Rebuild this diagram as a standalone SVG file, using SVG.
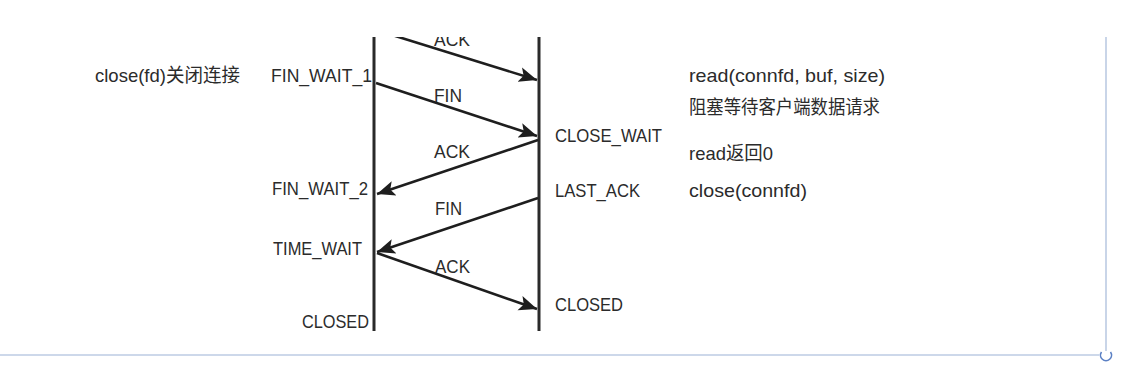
<svg xmlns="http://www.w3.org/2000/svg" width="1141" height="370" viewBox="0 0 1141 370">
<defs>
<style>
.t{font-family:"Liberation Sans","Noto Sans CJK SC",sans-serif;font-size:19px;fill:#2b2b2b}
.life{stroke:#2a2a2a;stroke-width:3;fill:none}
.msg{stroke:#1e1e1e;stroke-width:2.6;fill:none;marker-end:url(#ah)}
.frame{stroke:#bccbe3;stroke-width:1.6;fill:none}
</style>
<marker id="ah" markerUnits="userSpaceOnUse" markerWidth="20" markerHeight="18" viewBox="0 0 20 18" refX="18" refY="9" orient="auto">
<path d="M0,1.5 L18,9 L0,16.5 L4,9 Z" fill="#1e1e1e"/>
</marker>
<clipPath id="top"><rect x="0" y="37" width="1141" height="333"/></clipPath>
</defs>
<rect width="1141" height="370" fill="#fff"/>
<g clip-path="url(#top)">
<g id="client">
<line class="life" x1="374" y1="30" x2="374" y2="331"/>
<text class="t" x="95" y="82" textLength="145" lengthAdjust="spacingAndGlyphs">close(fd)关闭连接</text>
<text class="t" x="271" y="82" textLength="101" lengthAdjust="spacingAndGlyphs">FIN_WAIT_1</text>
<text class="t" x="272" y="195" textLength="96" lengthAdjust="spacingAndGlyphs">FIN_WAIT_2</text>
<text class="t" x="273" y="255" textLength="89" lengthAdjust="spacingAndGlyphs">TIME_WAIT</text>
<text class="t" x="302" y="328" textLength="67" lengthAdjust="spacingAndGlyphs">CLOSED</text>
</g>
<g id="server">
<line class="life" x1="539" y1="30" x2="539" y2="331"/>
<text class="t" x="555" y="142" textLength="107" lengthAdjust="spacingAndGlyphs">CLOSE_WAIT</text>
<text class="t" x="555" y="197" textLength="85" lengthAdjust="spacingAndGlyphs">LAST_ACK</text>
<text class="t" x="555" y="311" textLength="68" lengthAdjust="spacingAndGlyphs">CLOSED</text>
<text class="t" x="689" y="82" textLength="196" lengthAdjust="spacingAndGlyphs">read(connfd, buf, size)</text>
<text class="t" x="689" y="114" textLength="191" lengthAdjust="spacingAndGlyphs">阻塞等待客户端数据请求</text>
<text class="t" x="689" y="160" textLength="84" lengthAdjust="spacingAndGlyphs">read返回0</text>
<text class="t" x="689" y="197" textLength="118" lengthAdjust="spacingAndGlyphs">close(connfd)</text>
</g>
<g id="connectors">
<line class="msg" x1="376" y1="30" x2="537" y2="80"/>
<text class="t" x="434" y="46" textLength="36" lengthAdjust="spacingAndGlyphs">ACK</text>
<line class="msg" x1="376" y1="83" x2="537" y2="136"/>
<text class="t" x="434" y="102" textLength="28" lengthAdjust="spacingAndGlyphs">FIN</text>
<line class="msg" x1="538" y1="140" x2="377" y2="194"/>
<text class="t" x="434" y="158" textLength="36" lengthAdjust="spacingAndGlyphs">ACK</text>
<line class="msg" x1="538" y1="198" x2="377" y2="252"/>
<text class="t" x="435" y="215" textLength="27" lengthAdjust="spacingAndGlyphs">FIN</text>
<line class="msg" x1="377" y1="253" x2="537" y2="309"/>
<text class="t" x="435" y="273" textLength="35" lengthAdjust="spacingAndGlyphs">ACK</text>
</g>
</g>
<g id="frame">
<line class="frame" x1="0" y1="355" x2="1099" y2="355"/>
<line class="frame" x1="1106" y1="37" x2="1106" y2="351"/>
<path d="M1101.5,352 A5.5,5.5 0 1 0 1110.5,352" fill="none" stroke="#5b80c4" stroke-width="1.6"/>
</g>
</svg>
